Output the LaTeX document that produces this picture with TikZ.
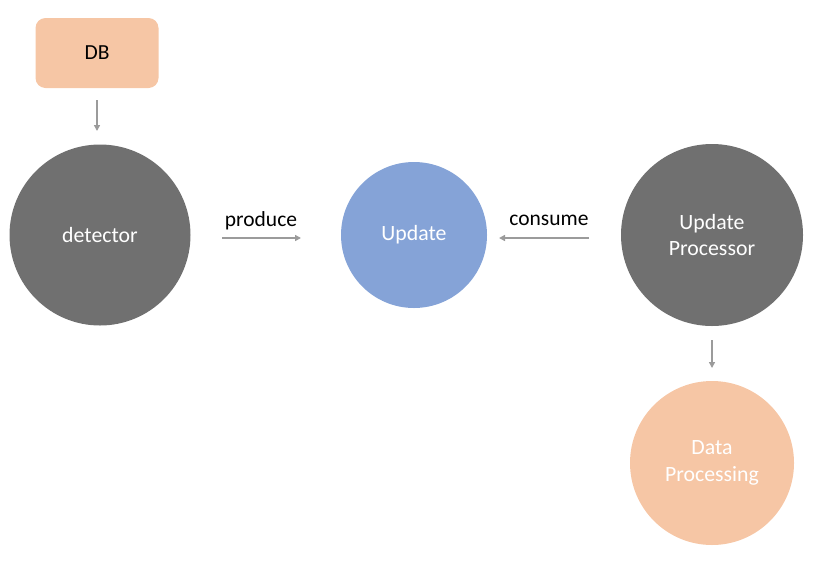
\documentclass[tikz,border=0pt]{standalone}
\usepackage{fontspec}
\setmainfont{Carlito}
\usetikzlibrary{arrows.meta}
\definecolor{peach}{HTML}{F6C6A5}
\definecolor{dgray}{HTML}{707070}
\definecolor{ublue}{HTML}{85A3D7}
\definecolor{agray}{HTML}{9B9B9B}
\tikzset{
  circ/.style={circle, draw=none, text=white, align=center, font=\fontsize{21.8}{26.5}\selectfont, inner sep=0pt},
  conn/.style={draw=agray, line width=1.6pt, -{Triangle[length=6pt,width=6pt]}},
  lbl/.style={font=\fontsize{21.5}{26}\selectfont, text=black}
}
\begin{document}
\begin{tikzpicture}[x=1pt,y=-1pt]
\useasboundingbox (0,0) rectangle (818,560);
\node[fill=peach, rounded corners=10pt, minimum width=123pt, minimum height=70pt, font=\fontsize{21.5}{26}\selectfont] (db) at (97,53) {DB};
\node[circ, fill=dgray, minimum size=181pt] (det) at (100,235) {\raisebox{-2pt}{detector}};
\node[circ, fill=ublue, minimum size=146pt] (upd) at (414,235) {\raisebox{-2pt}{Update}};
\node[circ, fill=dgray, minimum size=182pt] (proc) at (712,235) {Update\\Processor};
\node[circ, fill=peach, minimum size=164pt] (dp) at (712,463) {Data\\Processing};
\coordinate (a1s) at (97,100); \coordinate (a1e) at (97,131);
\coordinate (a2s) at (222,238); \coordinate (a2e) at (301,238);
\coordinate (a3s) at (589,238); \coordinate (a3e) at (499,238);
\coordinate (a4s) at (712,340); \coordinate (a4e) at (712,368);
\draw[conn] (a1s) -- (a1e);
\draw[conn] (a2s) -- (a2e);
\draw[conn] (a3s) -- (a3e);
\draw[conn] (a4s) -- (a4e);
\node[lbl] (lp) at (261,220.5) {produce};
\node[lbl] (lc) at (549,220.5) {consume};
\end{tikzpicture}
\end{document}
